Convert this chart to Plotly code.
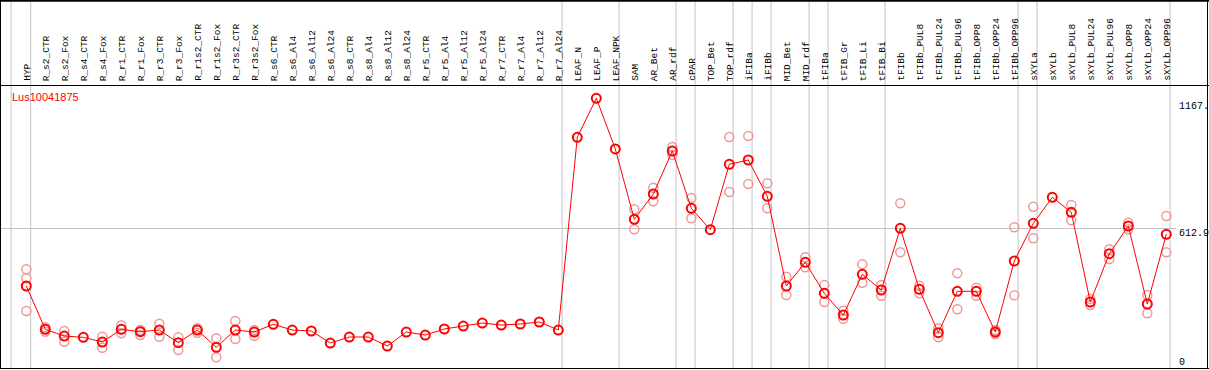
import plotly.graph_objects as go

W, H = 1209, 370

gene = "Lus10041875"

categories = [
    "HYP", "R_s2_CTR", "R_s2_Fox", "R_s4_CTR", "R_s4_Fox", "R_r1_CTR", "R_r1_Fox",
    "R_r3_CTR", "R_r3_Fox", "R_r1s2_CTR", "R_r1s2_Fox", "R_r3s2_CTR", "R_r3s2_Fox",
    "R_s6_CTR", "R_s6_Al4", "R_s6_Al12", "R_s6_Al24", "R_s8_CTR", "R_s8_Al4",
    "R_s8_Al12", "R_s8_Al24", "R_r5_CTR", "R_r5_Al4", "R_r5_Al12", "R_r5_Al24",
    "R_r7_CTR", "R_r7_Al4", "R_r7_Al12", "R_r7_Al24", "LEAF_N", "LEAF_P", "LEAF_NPK",
    "SAM", "AR_Bet", "AR_rdf", "cPAR", "TOP_Bet", "TOP_rdf", "iFIBa", "iFIBb",
    "MID_Bet", "MID_rdf", "tFIBa", "tFIB_Gr", "tFIB_Li", "tFIB_Bi", "tFIBb",
    "tFIBb_PUL8", "tFIBb_PUL24", "tFIBb_PUL96", "tFIBb_OPP8", "tFIBb_OPP24",
    "tFIBb_OPP96", "sXYLa", "sXYLb", "sXYLb_PUL8", "sXYLb_PUL24", "sXYLb_PUL96",
    "sXYLb_OPP8", "sXYLb_OPP24", "sXYLb_OPP96",
]

means = [
    368.2, 183.9, 155.4, 149.8, 129.8, 183.9, 173.7,
    180.9, 126.9, 180.9, 107.3, 180.9, 172.4,
    205.2, 180.9, 176.7, 125.6, 151.1, 151.1,
    112.8, 172.4, 159.6, 185.2, 197.9, 210.7,
    202.2, 206.5, 215.0, 180.9, 1001.0, 1167.0, 951.3,
    652.1, 759.7, 942.7, 698.9, 607.8, 886.1, 904.4, 749.9,
    368.2, 469.0, 337.1, 244.8, 418.0, 351.2, 613.8,
    354.1, 169.4, 345.6, 345.6, 172.4,
    474.6, 635.0, 745.7, 681.8, 300.1, 505.6,
    623.5, 291.6, 588.2,
]

replicates = [
    [439.3, 401.0, 261.8], [192.4, 173.7], [176.7, 131.1], [], [152.4, 105.6],
    [200.9, 166.9], [180.9, 159.6], [207.7, 152.4], [149.8, 95.8],
    [188.2, 169.4], [145.6, 64.7], [219.2, 142.6], [180.9, 156.7],
    [], [], [], [], [], [], [], [], [], [], [], [], [], [], [], [],
    [], [], [],
    [694.6, 652.1, 609.5], [786.5, 728.7], [959.8, 925.7], [742.7, 656.3], [],
    [1002.3, 768.2], [1006.6, 802.3], [805.3, 698.9],
    [407.8, 329.9], [490.3, 447.8], [372.4, 300.1], [263.1, 229.0],
    [460.5, 382.2], [372.4, 326.9], [720.2, 511.6],
    [369.5, 337.1], [188.2, 149.8], [422.2, 269.0], [360.9, 326.9],
    [180.9, 163.9], [618.0, 328.6], [705.7, 571.2], [],
    [712.9, 647.8], [312.9, 287.3], [524.4, 483.1],
    [637.6, 609.5], [329.9, 252.0], [666.1, 511.6],
]

tick_labels = ["1167.", "612.9", "0"]
reference_value = 612.9

# group separators, in category-index units
group_breaks = [-0.8, 0.23, 28.2, 31.2, 34.2, 35.2, 37.2, 38.2, 39.2,
                41.2, 42.2, 45.2, 52.2, 53.2, 60.2]

RED = "#ff0000"
PALE = "#ee9999"
GRID = "#c4c4c4"
MONO = "Liberation Mono"

rep_x, rep_y = [], []
for c, reps in zip(categories, replicates):
    for r in reps:
        rep_x.append(c)
        rep_y.append(r)

fig = go.Figure()
fig.add_trace(go.Scatter(
    x=rep_x, y=rep_y, mode="markers",
    marker=dict(symbol="circle-open", size=9, color=PALE, line=dict(width=1.5, color=PALE)),
    hoverinfo="skip", showlegend=False,
))
fig.add_trace(go.Scatter(
    x=categories, y=means, mode="lines+markers",
    line=dict(color=RED, width=1),
    marker=dict(symbol="circle-open", size=9, color=RED, line=dict(width=2, color=RED)),
    showlegend=False,
))

def py(px):
    return 1 - px / H

def pxx(px):
    return px / W

shapes = []
for b in group_breaks:
    shapes.append(dict(type="line", xref="x", yref="paper", x0=b, x1=b, y0=py(368), y1=1,
                       line=dict(color=GRID, width=1), layer="below"))
shapes.append(dict(type="line", xref="paper", yref="y", x0=pxx(1), x1=pxx(1176),
                   y0=reference_value, y1=reference_value,
                   line=dict(color=GRID, width=1), layer="below"))
# frame
shapes.append(dict(type="line", xref="paper", yref="paper", x0=0, x1=1, y0=py(0.8), y1=py(0.8),
                   line=dict(color="black", width=2)))
shapes.append(dict(type="line", xref="paper", yref="paper", x0=0, x1=1, y0=py(85.5), y1=py(85.5),
                   line=dict(color="black", width=1)))
shapes.append(dict(type="line", xref="paper", yref="paper", x0=0, x1=1, y0=py(368.5), y1=py(368.5),
                   line=dict(color="black", width=1)))
shapes.append(dict(type="line", xref="paper", yref="paper", x0=pxx(0.5), x1=pxx(0.5), y0=py(368.5), y1=1,
                   line=dict(color="black", width=1)))
shapes.append(dict(type="line", xref="paper", yref="paper", x0=pxx(1207.5), x1=pxx(1207.5), y0=py(368.5), y1=1,
                   line=dict(color="black", width=1)))

annotations = []
for c in categories:
    annotations.append(dict(x=c, xref="x", y=py(83), yref="paper", text=c, showarrow=False,
                            textangle=-90, xanchor="center", yanchor="bottom", xshift=1,
                            font=dict(family=MONO, size=9.5, color="black")))
annotations.append(dict(x=pxx(9.5), xref="paper", y=py(96.5), yref="paper", text=gene,
                        showarrow=False, xanchor="left", yanchor="middle",
                        font=dict(family="Liberation Sans", size=11, color=RED)))
for t, ypx in zip(tick_labels, [107, 233, 362]):
    annotations.append(dict(x=pxx(1177), xref="paper", y=py(ypx), yref="paper", text=t,
                            showarrow=False, xanchor="left", yanchor="middle",
                            font=dict(family=MONO, size=10, color="black")))

x0_px, step = 26.3, 19.0
fig.update_layout(
    width=W, height=H, autosize=False,
    margin=dict(l=0, r=0, t=0, b=0, pad=0),
    paper_bgcolor="white", plot_bgcolor="white",
    xaxis=dict(type="category", categoryorder="array", categoryarray=categories,
               range=[-x0_px / step, (W - x0_px) / step],
               showgrid=False, zeroline=False, showticklabels=False, ticks="", showline=False),
    yaxis=dict(range=[10.8, 1585.2], showgrid=False, zeroline=False,
               showticklabels=False, ticks="", showline=False),
    shapes=shapes, annotations=annotations,
)

fig.write_html(
    "out.html",
    config={"displayModeBar": False, "staticPlot": True},
    post_script="document.body.style.margin='0';document.body.style.padding='0';"
                "document.body.style.overflow='hidden';",
)
